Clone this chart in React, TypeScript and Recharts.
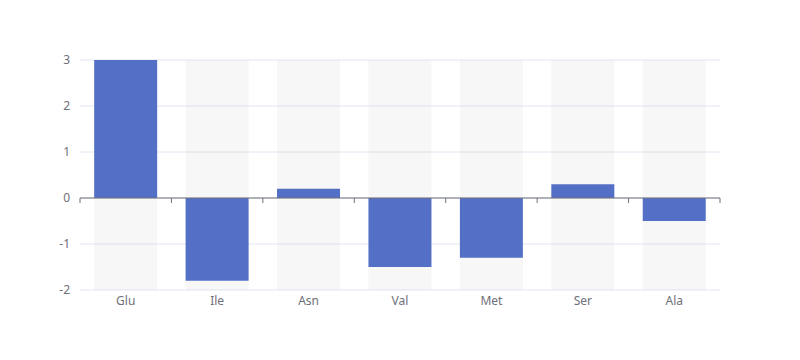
import React from 'react';
import { BarChart, Bar, XAxis, YAxis, CartesianGrid, ReferenceLine } from 'recharts';

const categories = ['Glu', 'Ile', 'Asn', 'Val', 'Met', 'Ser', 'Ala'];
const values = [3, -1.8, 0.2, -1.5, -1.3, 0.3, -0.5];
const yTicks = [-2, -1, 0, 1, 2, 3];

const data = categories.map((name, i) => ({ name, value: values[i] }));

const ZeroAxis = (props: any) => {
  const { x1, x2, y1 } = props;
  const n = categories.length;
  const step = (x2 - x1) / n;
  const ticks = [];
  for (let i = 0; i <= n; i++) {
    const x = x1 + step * i;
    ticks.push(<line key={i} x1={x} x2={x} y1={y1} y2={y1 + 5} stroke="#6e7079" strokeWidth={1} />);
  }
  return (
    <g>
      <line x1={x1} x2={x2} y1={y1} y2={y1} stroke="#6e7079" strokeWidth={1} />
      {ticks}
    </g>
  );
};

export default function App() {
  const font = '"Noto Sans", sans-serif';
  return (
    <div style={{ position: 'absolute', left: 0, top: 0, width: 800, height: 360, background: '#fff' }}>
      <BarChart
        width={800}
        height={360}
        data={data}
        margin={{ top: 60, right: 80, bottom: 40, left: 40 }}
        barCategoryGap="15.5%"
      >
        <CartesianGrid horizontal vertical={false} stroke="#e0e6f1" />
        <XAxis
          dataKey="name"
          axisLine={false}
          tickLine={false}
          tickSize={0}
          tickMargin={6}
          height={30}
          tick={{ fill: '#6e7079', fontSize: 12, fontFamily: font }}
        />
        <YAxis
          domain={[-2, 3]}
          ticks={yTicks}
          axisLine={false}
          tickLine={false}
          tickSize={0}
          tickMargin={10}
          width={40}
          tick={{ fill: '#6e7079', fontSize: 12, fontFamily: font }}
        />
        <Bar
          dataKey="value"
          fill="#5470c6"
          background={{ fill: 'rgba(180,180,180,0.11)' }}
          isAnimationActive={false}
        />
        <ReferenceLine y={0} shape={<ZeroAxis />} />
      </BarChart>
    </div>
  );
}
